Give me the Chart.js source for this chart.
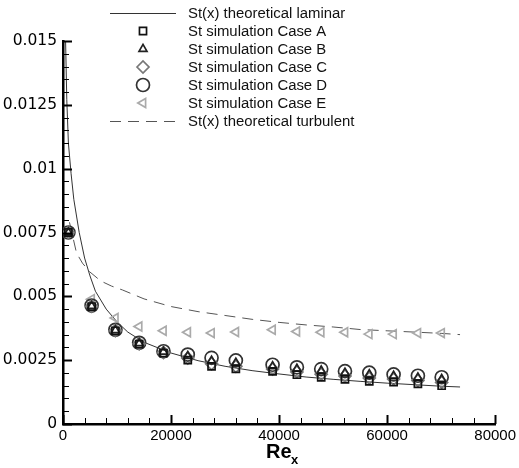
<!DOCTYPE html>
<html>
<head>
<meta charset="utf-8">
<script src="https://cdn.jsdelivr.net/npm/chart.js@4/dist/chart.umd.min.js"></script>
<style>
  body { margin: 0; background: #fff; }
  canvas { display: block; }
</style>
</head>
<body>
<canvas id="stChart" width="519" height="468"></canvas>
<script>
// Re_x positions of the simulation samples
const simRe = [1000, 5300, 9700, 14100, 18600, 23100, 27500, 32000, 38800, 43300, 47800, 52200, 56700, 61200, 65700, 70100];
const caseA = [0.0075, 0.0046, 0.00365, 0.00313, 0.00278, 0.0025, 0.00226, 0.00216, 0.00206, 0.00193, 0.00183, 0.00175, 0.00167, 0.00164, 0.00157, 0.0015];
const caseB = [0.0075, 0.00462, 0.00367, 0.00316, 0.00283, 0.00266, 0.00248, 0.0024, 0.00226, 0.00216, 0.00209, 0.00201, 0.00195, 0.00189, 0.00182, 0.00176];
const caseC = [0.0075, 0.00461, 0.00366, 0.00314, 0.0028, 0.00258, 0.00236, 0.00226, 0.00215, 0.00204, 0.00195, 0.00188, 0.0018, 0.00176, 0.0017, 0.00163];
const caseD = [0.0075, 0.00464, 0.00369, 0.00318, 0.00285, 0.00272, 0.00259, 0.00249, 0.00232, 0.00222, 0.00215, 0.00207, 0.00201, 0.00194, 0.00189, 0.00183];
const caseE = [0.0075, 0.00489, 0.00415, 0.00382, 0.00365, 0.00359, 0.00356, 0.0036, 0.00369, 0.00362, 0.00359, 0.00359, 0.00352, 0.00352, 0.00356, 0.00356];

// theoretical curves
const lamRe = [480, 700, 1000, 1500, 2000, 3000, 4000, 5000, 6000, 8000, 10000, 12000, 15000, 20000, 25000, 30000, 35000, 40000, 45000, 50000, 55000, 60000, 65000, 70000, 73500];
const lamSt = [0.015, 0.0127, 0.0110, 0.0098, 0.0088, 0.0075, 0.0065, 0.0058, 0.0052, 0.0045, 0.0040, 0.0036, 0.0032, 0.00278, 0.00248, 0.00226, 0.00209, 0.00196, 0.00184, 0.00175, 0.00167, 0.0016, 0.00154, 0.00148, 0.00145];
const turbRe = [1200, 2500, 3600, 5000, 7000, 9000, 11000, 15000, 20000, 25000, 30000, 35000, 40000, 45000, 50000, 55000, 60000, 65000, 70000, 73500];
const turbSt = [0.0079, 0.0067, 0.0063, 0.00595, 0.0056, 0.0054, 0.00525, 0.0049, 0.0046, 0.0044, 0.00425, 0.0041, 0.00398, 0.00388, 0.0038, 0.0037, 0.00365, 0.0036, 0.00355, 0.0035];

const xTicks = [0, 20000, 40000, 60000, 80000];
const xTickLabels = ["0", "20000", "40000", "60000", "80000"];
const yTicks = [0, 0.0025, 0.005, 0.0075, 0.01, 0.0125, 0.015];
const yTickLabels = ["0", "0.0025", "0.005", "0.0075", "0.01", "0.0125", "0.015"];

const legendLabels = [
    "St(x) theoretical laminar",
    "St simulation Case A",
    "St simulation Case B",
    "St simulation Case C",
    "St simulation Case D",
    "St simulation Case E",
    "St(x) theoretical turbulent"
];

const pts = (xs, ys) => xs.map((x, i) => ({ x: x, y: ys[i] }));

function markerSet(label, ys, style, color, radius, rotation) {
    return {
        label: label,
        data: pts(simRe, ys),
        showLine: false,
        pointStyle: style,
        pointRotation: rotation || 0,
        pointRadius: radius,
        pointBorderWidth: 1.7,
        pointBorderColor: color,
        pointBackgroundColor: 'rgba(0,0,0,0)',
        borderColor: color,
        order: 1
    };
}

const datasets = [
    {
        label: legendLabels[0],
        data: pts(lamRe, lamSt),
        showLine: true,
        borderColor: '#333',
        borderWidth: 1,
        pointRadius: 0,
        order: 5
    },
    markerSet(legendLabels[1], caseA, 'rect', '#111', 5),
    markerSet(legendLabels[2], caseB, 'triangle', '#222', 4.6),
    markerSet(legendLabels[3], caseC, 'rectRot', '#777', 6),
    markerSet(legendLabels[4], caseD, 'circle', '#333', 6.5),
    markerSet(legendLabels[5], caseE, 'triangle', '#aaa', 5.2, -90),
    {
        label: legendLabels[6],
        data: pts(turbRe, turbSt),
        showLine: true,
        borderColor: '#555',
        borderWidth: 1,
        borderDash: [11, 7],
        pointRadius: 0,
        order: 5
    }
];

// ticks pointing into the plot, like the original
const insideTicks = {
    id: 'insideTicks',
    afterDatasetsDraw(chart) {
        const ctx = chart.ctx;
        const xs = chart.scales.x, ys = chart.scales.y;
        const area = chart.chartArea;
        ctx.save();
        ctx.strokeStyle = '#000';
        for (let v = 0; v <= 80000; v += 4000) {
            const major = xTicks.includes(v);
            const px = Math.round(xs.getPixelForValue(v)) + 0.5;
            ctx.lineWidth = major ? 2 : 1;
            ctx.beginPath();
            ctx.moveTo(px, area.bottom);
            ctx.lineTo(px, area.bottom - (major ? 9 : 6));
            ctx.stroke();
        }
        for (let k = 0; k <= 30; k++) {
            const v = k * 0.0005;
            const major = k % 5 === 0;
            const py = Math.round(ys.getPixelForValue(v)) + 0.5;
            ctx.lineWidth = major ? 2 : 1;
            ctx.beginPath();
            ctx.moveTo(area.left, py);
            ctx.lineTo(area.left + (major ? 9 : 6), py);
            ctx.stroke();
        }
        ctx.restore();
    }
};

// legend block in the top of the plot + axis title Re_x
const legendAndTitle = {
    id: 'legendAndTitle',
    afterDraw(chart) {
        const ctx = chart.ctx;
        ctx.save();
        chart.data.datasets.forEach((ds, i) => {
            const y = 13 + i * 18;
            if (ds.showLine) {
                ctx.strokeStyle = ds.borderColor;
                ctx.lineWidth = 1;
                ctx.setLineDash(ds.borderDash || []);
                ctx.beginPath();
                ctx.moveTo(110, y + 0.5);
                ctx.lineTo(176, y + 0.5);
                ctx.stroke();
                ctx.setLineDash([]);
            } else {
                ctx.strokeStyle = ds.pointBorderColor;
                ctx.fillStyle = 'rgba(0,0,0,0)';
                ctx.lineWidth = ds.pointBorderWidth;
                Chart.helpers.drawPoint(ctx, {
                    pointStyle: ds.pointStyle,
                    rotation: ds.pointRotation,
                    radius: ds.pointRadius,
                    borderWidth: ds.pointBorderWidth
                }, 143, y);
            }
            ctx.fillStyle = '#111';
            ctx.font = '14.9px "Liberation Sans"';
            ctx.textBaseline = 'middle';
            ctx.textAlign = 'left';
            ctx.fillText(legendLabels[i], 188, y + 1);
        });

        ctx.fillStyle = '#000';
        ctx.textBaseline = 'alphabetic';
        ctx.font = 'bold 20px "Liberation Sans"';
        ctx.fillText('Re', 266, 458);
        ctx.font = 'bold 13px "Liberation Sans"';
        ctx.fillText('x', 291, 464);
        ctx.restore();
    }
};

new Chart(document.getElementById('stChart'), {
    type: 'scatter',
    data: { datasets: datasets },
    options: {
        responsive: false,
        animation: false,
        layout: { padding: { left: 0, right: 21, top: 41, bottom: 0 } },
        plugins: {
            legend: { display: false },
            tooltip: { enabled: false }
        },
        scales: {
            x: {
                type: 'linear',
                min: 0,
                max: 80000,
                afterFit: (s) => { s.height = 44; },
                grid: { display: false, drawTicks: false },
                border: { display: true, color: '#000', width: 2.5 },
                ticks: {
                    stepSize: 20000,
                    padding: 3,
                    color: '#000',
                    font: { family: 'Liberation Sans', size: 15 },
                    maxRotation: 0,
                    callback: (v) => xTickLabels[xTicks.indexOf(v)]
                }
            },
            y: {
                type: 'linear',
                min: 0,
                max: 0.015,
                afterFit: (s) => { s.width = 63; },
                grid: { display: false, drawTicks: false },
                border: { display: true, color: '#000', width: 2.5 },
                ticks: {
                    stepSize: 0.0025,
                    padding: 6,
                    color: '#000',
                    font: { family: 'DejaVu Sans', size: 15.5 },
                    callback: (v, i) => yTickLabels[i]
                }
            }
        }
    },
    plugins: [insideTicks, legendAndTitle]
});
</script>
</body>
</html>
